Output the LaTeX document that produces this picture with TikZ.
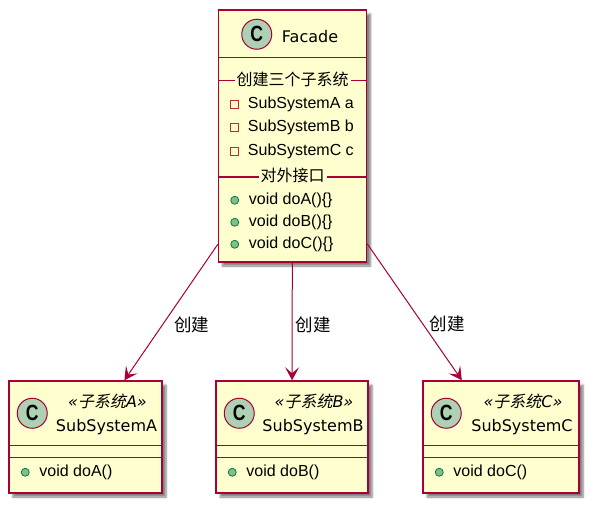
\documentclass[tikz,border=0pt]{standalone}
\usepackage{fontspec}
\usepackage{graphicx}
\setmainfont{Liberation Sans}
\newfontfamily\titlefont{DejaVu Sans}
\newfontfamily\cjk{Noto Sans CJK SC}
\newfontfamily\cjkit[FakeSlant=0.2]{Noto Sans CJK SC}
\usetikzlibrary{arrows.meta,shadows.blur,positioning}

\definecolor{umlborder}{HTML}{A80036}
\definecolor{umlfill}{HTML}{FEFECE}
\definecolor{iconfill}{HTML}{ADD1B2}
\definecolor{fieldred}{HTML}{C82930}
\definecolor{methodfill}{HTML}{84BE84}
\definecolor{methoddraw}{HTML}{038048}

\tikzset{
    classbox/.style={draw=umlborder, line width=1.5pt, fill=umlfill,
        blur shadow={shadow xshift=4pt, shadow yshift=-4pt, shadow blur steps=6, shadow opacity=50}},
    classicon/.style={circle, draw=umlborder, line width=1pt, fill=iconfill,
        minimum size=30pt, inner sep=0pt, font=\fontsize{22}{22}\selectfont\bfseries},
    classname/.style={inner sep=0pt, font=\titlefont\fontsize{16}{19}\selectfont},
    membertext/.style={anchor=west, inner sep=0pt, font=\fontsize{16}{19}\selectfont},
    sectionlabel/.style={fill=umlfill, inner xsep=2pt, inner ysep=0pt, font=\cjk\fontsize{16}{19}\selectfont},
    divider/.style={draw=umlborder, line width=1.5pt},
    creates/.style={-{Stealth[length=13pt,width=14pt,inset=6pt]}, draw=umlborder, line width=1pt},
    arrowlabel/.style={inner sep=0pt, font=\cjk\fontsize{17.5}{20}\selectfont},
}

% private field: red square, public method: green dot
\newcommand{\drawField}[3]{
    \draw[fieldred, line width=0.8pt] ([shift={(13,#2-4)}]facade.north west) rectangle ++(8,8);
    \node[membertext] (#1) at ([shift={(30,#2)}]facade.north west) {#3};
}
\newcommand{\drawMethod}[4]{
    \filldraw[fill=methodfill, draw=methoddraw, line width=0.8pt] ([shift={(17,#3)}]#1.north west) circle (4pt);
    \node[membertext] (#2) at ([shift={(31,#3)}]#1.north west) {#4};
}

\begin{document}
\begin{tikzpicture}[x=1pt, y=-1pt]
    \useasboundingbox (0,0) rectangle (597,509);

    % Facade class
    \node[classbox, minimum width=148pt, minimum height=252pt] (facade) at (292.5,136) {};
    \node[classicon] (facadeicon) at ([shift={(39,25)}]facade.north west) {\scalebox{0.8}[1]{C}};
    \node[classname, anchor=west] (facadename) at ([shift={(64,27)}]facade.north west) {Facade};
    \draw[divider] ([yshift=-48pt]facade.north west) -- ([yshift=-48pt]facade.north east);

    % fields
    \draw[divider] ([yshift=-71pt]facade.north west) -- ([yshift=-71pt]facade.north east);
    \node[sectionlabel] (fieldlabel) at ([yshift=-70pt]facade.north) {创建三个子系统};
    \drawField{fielda}{95}{SubSystemA a}
    \drawField{fieldb}{118.5}{SubSystemB b}
    \drawField{fieldc}{142}{SubSystemC c}

    % methods
    \draw[divider] ([yshift=-167.5pt]facade.north west) -- ([yshift=-167.5pt]facade.north east);
    \node[sectionlabel] (methodlabel) at ([yshift=-166.5pt]facade.north) {对外接口};
    \drawMethod{facade}{methoda}{191}{void doA()\{\}}
    \drawMethod{facade}{methodb}{213}{void doB()\{\}}
    \drawMethod{facade}{methodc}{235}{void doC()\{\}}

    % Sub systems
    \foreach \name/\cx/\w/\letter in {suba/85.5/153/A, subb/292/152/B, subc/501/156/C} {
        \node[classbox, minimum width=\w pt, minimum height=112pt] (\name) at (\cx,437) {};
        \node[classicon] (\name icon) at ([shift={(24,33)}]\name.north west) {\scalebox{0.8}[1]{C}};
        \node[classname] (\name stereo) at ([shift={(22,21)}]\name.north) {{\itshape «}{\cjkit 子系统}{\itshape \letter»}};
        \node[classname] (\name title) at ([shift={(21,47)}]\name.north) {SubSystem\letter};
        \draw[divider] ([yshift=-65pt]\name.north west) -- ([yshift=-65pt]\name.north east);
        \draw[divider] ([yshift=-77pt]\name.north west) -- ([yshift=-77pt]\name.north east);
        \drawMethod{\name}{\name do}{92}{void do\letter()}
    }

    % Draw associations
    \draw[creates] (facade) -- (suba) node[arrowlabel, pos=0.59, right=11pt] (labela) {创建};
    \draw[creates] (facade) -- (subb) node[arrowlabel, pos=0.53, right=3pt] (labelb) {创建};
    \draw[creates] (facade) -- (subc) node[arrowlabel, pos=0.59, right=6pt] (labelc) {创建};
\end{tikzpicture}
\end{document}
